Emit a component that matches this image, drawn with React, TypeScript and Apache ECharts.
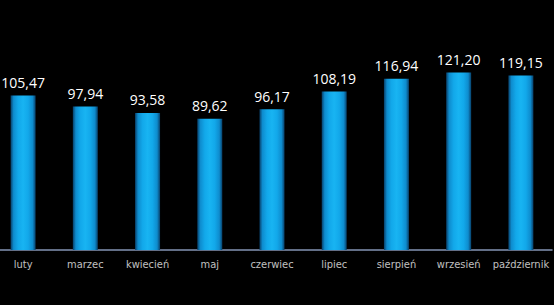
import React, { useEffect, useRef } from "react";
import * as echarts from "echarts";

const categories = ["luty", "marzec", "kwiecień", "maj", "czerwiec", "lipiec", "sierpień", "wrzesień", "październik"];
const values = [105.47, 97.94, 93.58, 89.62, 96.17, 108.19, 116.94, 121.2, 119.15];

export default function App() {
  const ref = useRef<HTMLDivElement>(null);
  useEffect(() => {
    document.body.style.background = "#000";
    document.body.style.margin = "0";
    const chart = echarts.init(ref.current!, null, { renderer: "svg" });
    chart.setOption({
      animation: false,
      backgroundColor: "#000",
      grid: { left: 0, right: 2, top: 45, bottom: 55 },
      xAxis: {
        type: "category",
        data: categories,
        axisTick: { show: false },
        axisLine: { lineStyle: { color: "#8494b4", width: 1.5 } },
        axisLabel: { color: "#c0c0c0", fontSize: 11, margin: 9, fontFamily: "DejaVu Sans Condensed, Liberation Sans, sans-serif", interval: 0 },
      },
      yAxis: {
        type: "value",
        min: 0,
        max: 140,
        show: false,
        splitLine: { show: false },
      },
      series: [
        {
          type: "bar",
          data: values,
          barWidth: 25,
          itemStyle: {
            color: new echarts.graphic.LinearGradient(0, 0, 1, 0, [
              { offset: 0, color: "#08406a" },
              { offset: 0.12, color: "#0e8cce" },
              { offset: 0.3, color: "#12a8ea" },
              { offset: 0.5, color: "#18b4f2" },
              { offset: 0.7, color: "#12a8ea" },
              { offset: 0.88, color: "#0e8cce" },
              { offset: 1, color: "#08406a" },
            ]),
          },
          label: {
            show: true,
            position: "top",
            distance: 6,
            color: "#ffffff",
            fontSize: 14,
            fontFamily: "Open Sans, sans-serif",
            formatter: (p: any) => p.value.toFixed(2).replace(".", ","),
          },
        },
      ],
    });
    return () => chart.dispose();
  }, []);
  return (
    <div
      ref={ref}
      style={{ position: "absolute", left: -8, top: 0, width: 562, height: 305, background: "#000" }}
    />
  );
}
